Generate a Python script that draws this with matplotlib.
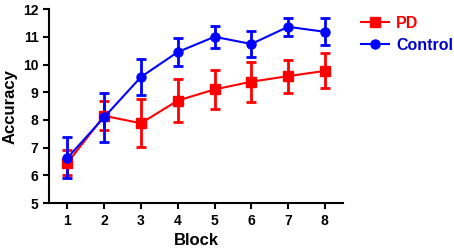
import matplotlib
matplotlib.use("Agg")
import matplotlib.pyplot as plt
from matplotlib.lines import Line2D

plt.rcParams['font.family'] = ['Liberation Sans', 'DejaVu Sans']
plt.rcParams['font.weight'] = 'bold'

# data
blocks = [1, 2, 3, 4, 5, 6, 7, 8]
pd_mean = [6.45, 8.15, 7.88, 8.70, 9.10, 9.38, 9.58, 9.77]
pd_err = [0.45, 0.52, 0.86, 0.76, 0.69, 0.72, 0.60, 0.63]
ctrl_mean = [6.63, 8.10, 9.55, 10.45, 11.00, 10.74, 11.36, 11.18]
ctrl_err = [0.74, 0.88, 0.66, 0.50, 0.40, 0.47, 0.32, 0.48]

red = '#ff0000'
blue = '#0000ff'

fig = plt.figure(figsize=(4.54, 2.52), dpi=100)
ax = fig.add_axes([0.108, 0.194, 0.648, 0.770])

ax.errorbar(blocks, pd_mean, yerr=pd_err, color=red, marker='s',
            markersize=6.5, linewidth=1.5, elinewidth=2, capsize=3.5, capthick=2)
ax.errorbar(blocks, ctrl_mean, yerr=ctrl_err, color=blue, marker='o',
            markersize=6.5, linewidth=1.5, elinewidth=2, capsize=3.5, capthick=2)

ax.set_xlim(0.5, 8.5)
ax.set_ylim(5, 12)
ax.set_xticks(blocks)
ax.set_yticks(range(5, 13))
ax.spines['top'].set_visible(False)
ax.spines['right'].set_visible(False)
ax.spines['left'].set_linewidth(1.5)
ax.spines['bottom'].set_linewidth(1.5)
ax.tick_params(width=1.5, length=4, labelsize=10)

ax.set_xlabel('Block', fontsize=12, fontweight='bold')
ax.set_ylabel('Accuracy', fontsize=12, fontweight='bold')

# legend without error bars, placed right of the axes
handles = [Line2D([], [], color=red, marker='s', markersize=6.5, linewidth=1.5),
           Line2D([], [], color=blue, marker='o', markersize=6.5, linewidth=1.5)]
leg = fig.legend(handles, ['PD', 'Control'], loc='upper left',
                 bbox_to_anchor=(361 / 454, 1 - 16 / 252), frameon=False,
                 fontsize=11.5, borderpad=0, borderaxespad=0,
                 handlelength=1.75, handletextpad=0.45, labelspacing=0.42)
for text, c in zip(leg.get_texts(), [red, '#0000cc']):
    text.set_color(c)

fig.savefig('out.png', dpi=100)
